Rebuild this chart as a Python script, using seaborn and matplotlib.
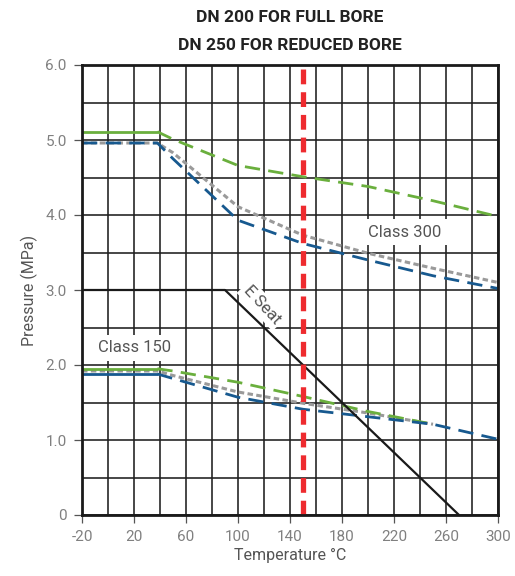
import matplotlib
matplotlib.use("Agg")
import matplotlib.pyplot as plt
import seaborn as sns
import pandas as pd

# Pressure-temperature ratings (MPa vs °C)
temps_300_green = [-20, 38, 50, 100, 150, 200, 250, 300]
press_300_green = [5.11, 5.11, 5.01, 4.66, 4.51, 4.38, 4.19, 3.98]

temps_300_gray = [-20, 38, 50, 100, 150, 200, 250, 300]
press_300_gray = [4.96, 4.96, 4.83, 4.11, 3.73, 3.49, 3.29, 3.10]

temps_300_blue = [-20, 38, 50, 100, 150, 200, 250, 300]
press_300_blue = [4.96, 4.96, 4.75, 3.93, 3.62, 3.40, 3.19, 3.02]

temps_150_green = [-20, 38, 50, 100, 150, 200, 250]
press_150_green = [1.95, 1.95, 1.92, 1.77, 1.58, 1.38, 1.21]

temps_150_gray = [-20, 38, 50, 100, 150, 200, 250]
press_150_gray = [1.92, 1.92, 1.86, 1.64, 1.49, 1.36, 1.21]

temps_150_blue = [-20, 38, 50, 100, 150, 200, 250, 300]
press_150_blue = [1.88, 1.88, 1.82, 1.57, 1.41, 1.31, 1.21, 1.01]

temps_seat = [-20, 90, 270]
press_seat = [3.0, 3.0, 0.0]

flat_end_temp = 38
red_line_temp = 150

x_ticks = [-20, 20, 60, 100, 140, 180, 220, 260, 300]
y_ticks = [0, 1, 2, 3, 4, 5, 6]
y_tick_labels = ["0", "1.0", "2.0", "3.0", "4.0", "5.0", "6.0"]

title_lines = ["DN 200 FOR FULL BORE", "DN 250 FOR REDUCED BORE"]

GREEN = "#6aaf3d"
BLUE = "#17598f"
GRAY = "#9a9a9a"
RED = "#ee2b2f"
GRID = "#1e1e1e"
TEXT = "#555555"

sns.set_theme(style="white")
plt.rcParams["font.family"] = ["Roboto", "DejaVu Sans"]
plt.rcParams["axes.unicode_minus"] = False

fig = plt.figure(figsize=(5.15, 5.76), dpi=100)
ax = fig.add_axes([82 / 515, 61 / 576, 416 / 515, 450 / 576])


def split(temps, press):
    """Split a rating curve into its flat part and its sloped part."""
    i = temps.index(flat_end_temp)
    return (pd.DataFrame({"t": temps[: i + 1], "p": press[: i + 1]}),
            pd.DataFrame({"t": temps[i:], "p": press[i:]}))


def draw(df, color, lw, ls, z):
    sns.lineplot(data=df, x="t", y="p", ax=ax, color=color, linewidth=lw,
                 linestyle=ls, estimator=None, sort=False, zorder=z)


dash = (0, (5.5, 3.0))
dot = (0, (1.8, 1.1))

# Class 300
g_flat, g_slope = split(temps_300_green, press_300_green)
draw(g_flat, GREEN, 2.0, "-", 4)
draw(g_slope, GREEN, 2.0, dash, 4)
draw(pd.DataFrame({"t": temps_300_gray, "p": press_300_gray}), GRAY, 2.2, dot, 3)
draw(pd.DataFrame({"t": temps_300_blue, "p": press_300_blue}), BLUE, 2.0, dash, 4)

# Class 150
g_flat, g_slope = split(temps_150_green, press_150_green)
draw(g_flat, GREEN, 2.0, "-", 4)
draw(g_slope, GREEN, 2.0, dash, 4)
draw(pd.DataFrame({"t": temps_150_gray, "p": press_150_gray}), GRAY, 2.2, dot, 3)
b_flat, b_slope = split(temps_150_blue, press_150_blue)
draw(b_flat, BLUE, 2.0, "-", 4)
draw(b_slope, BLUE, 2.0, dash, 4)

# E seat limit
draw(pd.DataFrame({"t": temps_seat, "p": press_seat}), "#1a1a1a", 1.6, "-", 5)

# Marker line at the selected temperature
ax.axvline(red_line_temp, color=RED, linewidth=3.8,
           linestyle=(0, (2.8, 1.5)), zorder=6)

ax.set_xlim(-20, 300)
ax.set_ylim(0, 6)
ax.set_xticks(x_ticks)
ax.set_xticks(range(-20, 301, 20), minor=True)
ax.set_yticks(y_ticks)
ax.set_yticklabels(y_tick_labels)
ax.set_yticks([v / 2 for v in range(0, 13)], minor=True)
ax.grid(True, which="both", color=GRID, linewidth=1.15, zorder=1)
ax.set_axisbelow(True)

ax.tick_params(which="major", direction="out", length=6, width=0.9,
               color="#555555", labelcolor="#808080", labelsize=11, pad=5,
               bottom=True, left=True)
ax.tick_params(which="minor", length=0)

for s in ax.spines.values():
    s.set_color("#1a1a1a")
    s.set_linewidth(2.0)
    s.set_zorder(7)

ax.set_xlabel("Temperature °C", fontsize=11.5, color=TEXT, labelpad=3)
ax.set_ylabel("Pressure (MPa)", fontsize=11.5, color=TEXT, labelpad=5)

box = dict(facecolor="white", edgecolor="none", pad=4)
ax.text(228.5, 3.77, "Class 300", fontsize=12, color=TEXT,
        ha="center", va="center", bbox=box, zorder=2)
ax.text(20.8, 2.23, "Class 150", fontsize=12, color=TEXT,
        ha="center", va="center", bbox=box, zorder=2)
ax.text(118.5, 2.8, "E Seat", fontsize=12, color=TEXT,
        ha="center", va="center", rotation=-47, rotation_mode="anchor",
        bbox=dict(facecolor="white", edgecolor="none", pad=2), zorder=2)

fig.text(290 / 515, 1 - 17 / 576, title_lines[0], ha="center", va="center",
         fontsize=12.5, fontweight="bold", color="#222222")
fig.text(290 / 515, 1 - 45 / 576, title_lines[1], ha="center", va="center",
         fontsize=12.5, fontweight="bold", color="#222222")

fig.savefig("out.png", dpi=100)
